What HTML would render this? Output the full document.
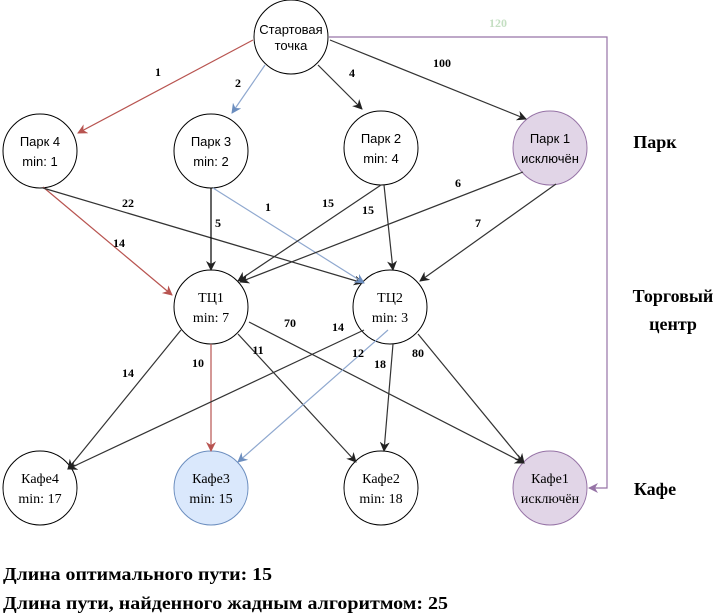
<!DOCTYPE html>
<html><head><meta charset="utf-8"><style>
html,body{margin:0;padding:0;background:#fff;}
svg{display:block;}
.s{font-family:"Liberation Sans",sans-serif;font-size:13px;}
.r{font-family:"Liberation Serif",serif;font-size:14px;}
.l{font-family:"Liberation Serif",serif;font-size:12px;font-weight:bold;}
.b{font-family:"Liberation Serif",serif;font-size:18px;font-weight:bold;}
</style></head><body>
<svg width="723" height="615" viewBox="0 0 723 615" xmlns="http://www.w3.org/2000/svg">
<defs>
<marker id="ak" markerWidth="10" markerHeight="10" refX="9" refY="5" orient="auto" markerUnits="userSpaceOnUse"><path d="M0,0 L10,5 L0,10 L3,5 z" fill="#222"/></marker>
<marker id="ar" markerWidth="10" markerHeight="10" refX="9" refY="5" orient="auto" markerUnits="userSpaceOnUse"><path d="M0,0 L10,5 L0,10 L3,5 z" fill="#b85450"/></marker>
<marker id="ab" markerWidth="10" markerHeight="10" refX="9" refY="5" orient="auto" markerUnits="userSpaceOnUse"><path d="M0,0 L10,5 L0,10 L3,5 z" fill="#6c8ebf"/></marker>
<marker id="ap" markerWidth="10" markerHeight="10" refX="9" refY="5" orient="auto" markerUnits="userSpaceOnUse"><path d="M0,0 L10,5 L0,10 L3,5 z" fill="#9673a6"/></marker>
</defs>
<g stroke="#000" stroke-width="1" fill="#fff">
<ellipse cx="291" cy="37" rx="37" ry="37"/>
<ellipse cx="40" cy="151" rx="37" ry="37"/>
<ellipse cx="211" cy="151" rx="37" ry="37"/>
<ellipse cx="381" cy="148" rx="37" ry="37"/>
<ellipse cx="550" cy="148" rx="37" ry="37" fill="#e1d5e7" stroke="#9673a6"/>
<ellipse cx="211" cy="307" rx="37" ry="37"/>
<ellipse cx="390" cy="307" rx="37" ry="37"/>
<ellipse cx="40" cy="488" rx="37" ry="37"/>
<ellipse cx="211" cy="488" rx="37" ry="37" fill="#dae8fc" stroke="#6c8ebf"/>
<ellipse cx="381" cy="488" rx="37" ry="37"/>
<ellipse cx="550" cy="488" rx="37" ry="37" fill="#e1d5e7" stroke="#9673a6"/>
</g>
<g fill="none" stroke-width="1.2">
<line x1="253" y1="40" x2="78" y2="133" stroke="#b85450" marker-end="url(#ar)"/>
<line x1="265" y1="65" x2="232" y2="113" stroke="#8fa8cf" marker-end="url(#ab)"/>
<line x1="318" y1="65" x2="362" y2="109" stroke="#333" marker-end="url(#ak)"/>
<line x1="330" y1="40" x2="526" y2="119" stroke="#333" marker-end="url(#ak)"/>
<polyline points="329,37 607,37 607,488 589,488" stroke="#9673a6" marker-end="url(#ap)"/>
<line x1="43" y1="187" x2="172" y2="295" stroke="#b85450" marker-end="url(#ar)"/>
<line x1="43" y1="188" x2="363" y2="283" stroke="#333" marker-end="url(#ak)"/>
<line x1="211" y1="188" x2="211" y2="270" stroke="#000" marker-end="url(#ak)"/>
<line x1="213" y1="188" x2="364" y2="283" stroke="#8fa8cf" marker-end="url(#ab)"/>
<line x1="381" y1="185" x2="238" y2="281" stroke="#333" marker-end="url(#ak)"/>
<line x1="384" y1="185" x2="393" y2="270" stroke="#333" marker-end="url(#ak)"/>
<line x1="523" y1="172" x2="240" y2="282" stroke="#333" marker-end="url(#ak)"/>
<line x1="556" y1="184" x2="420" y2="281" stroke="#333" marker-end="url(#ak)"/>
<line x1="181" y1="330" x2="68" y2="469" stroke="#333" marker-end="url(#ak)"/>
<line x1="211" y1="344" x2="211" y2="451" stroke="#b85450" marker-end="url(#ar)"/>
<line x1="238" y1="334" x2="356" y2="462" stroke="#333" marker-end="url(#ak)"/>
<line x1="249" y1="322" x2="524" y2="463" stroke="#333" marker-end="url(#ak)"/>
<line x1="364" y1="330" x2="68" y2="469" stroke="#333" marker-end="url(#ak)"/>
<line x1="388" y1="330" x2="238" y2="462" stroke="#8fa8cf" marker-end="url(#ab)"/>
<line x1="393" y1="344" x2="384" y2="451" stroke="#333" marker-end="url(#ak)"/>
<line x1="418" y1="334" x2="524" y2="463" stroke="#333" marker-end="url(#ak)"/>
</g>
<g text-anchor="middle" fill="#000">
<text class="s" x="291" y="34" font-size="12">Стартовая</text><text class="s" x="291" y="50" font-size="12">точка</text>
<text class="s" x="40" y="146" font-size="14">Парк 4</text><text class="s" x="40" y="166" font-size="14">min: 1</text>
<text class="s" x="211" y="146" font-size="14">Парк 3</text><text class="s" x="211" y="166" font-size="14">min: 2</text>
<text class="s" x="381" y="143" font-size="14">Парк 2</text><text class="s" x="381" y="163" font-size="14">min: 4</text>
<text class="s" x="550" y="143" font-size="14">Парк 1</text><text class="s" x="550" y="163" font-size="14">исключён</text>
<text class="r" x="211" y="302">ТЦ1</text><text class="r" x="211" y="322">min: 7</text>
<text class="r" x="390" y="302">ТЦ2</text><text class="r" x="390" y="322">min: 3</text>
<text class="r" x="40" y="483">Кафе4</text><text class="r" x="40" y="503">min: 17</text>
<text class="r" x="211" y="483">Кафе3</text><text class="r" x="211" y="503">min: 15</text>
<text class="r" x="381" y="483">Кафе2</text><text class="r" x="381" y="503">min: 18</text>
<text class="r" x="550" y="483">Кафе1</text><text class="r" x="550" y="503">исключён</text>
</g>
<g class="l" text-anchor="middle">
<text x="158" y="76">1</text><text x="238" y="87">2</text><text x="352" y="77">4</text><text x="442" y="67">100</text>
<text x="498" y="27" fill="#c4dfc2">120</text>
<text x="128" y="207">22</text><text x="119" y="247">14</text><text x="218" y="227">5</text><text x="268" y="211">1</text>
<text x="328" y="207">15</text><text x="368" y="214">15</text><text x="458" y="187">6</text><text x="478" y="227">7</text>
<text x="290" y="327">70</text><text x="338" y="331">14</text><text x="258" y="354">11</text><text x="198" y="367">10</text>
<text x="358" y="357">12</text><text x="380" y="368">18</text><text x="418" y="357">80</text><text x="128" y="377">14</text>
</g>
<g class="b" text-anchor="middle">
<text x="655" y="148">Парк</text>
<text x="673" y="302">Торговый</text><text x="673" y="330">центр</text>
<text x="655" y="495">Кафе</text>
</g>
<text class="b" x="3" y="580" textLength="269" lengthAdjust="spacingAndGlyphs">Длина оптимального пути: 15</text>
<text class="b" x="3" y="609" textLength="445" lengthAdjust="spacingAndGlyphs">Длина пути, найденного жадным алгоритмом: 25</text>
</svg>
</body></html>
